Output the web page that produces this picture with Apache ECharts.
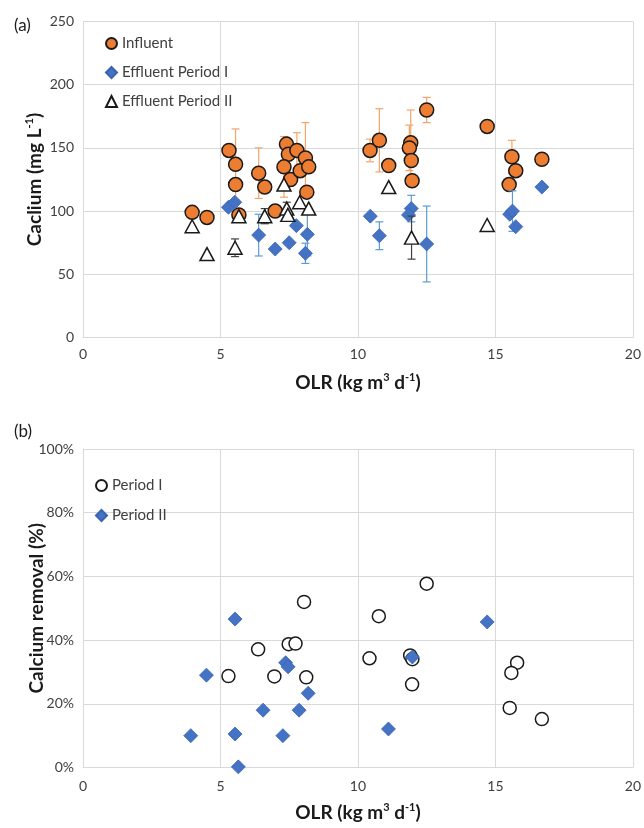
<!DOCTYPE html>
<html>
<head>
  <meta charset="utf-8">
  <title>Calcium vs OLR</title>
  <style type="text/css">
    html, body { margin: 0; padding: 0; background: #fff; }
    #main { width: 644px; height: 828px; }
  </style>
</head>
<body>
<div id="main"></div>
<script type="text/javascript" src="https://cdn.jsdelivr.net/npm/echarts@6/dist/echarts.min.js"></script>
<script type="text/javascript">
  // (a) calcium concentration vs OLR
  var olrInfluent = [3.97, 4.51, 5.31, 5.55, 5.55, 5.67, 6.39, 6.61, 6.99, 7.40, 7.47, 7.31, 7.55, 7.78, 7.90, 8.09,
                     8.21, 8.14, 10.44, 10.78, 11.12, 12.50, 11.92, 11.87, 11.94, 11.97, 14.70, 15.60, 15.74, 15.50, 16.69];
  var caInfluent  = [99, 95, 148, 137, 121, 97, 130, 119, 100, 153, 145, 135, 125, 148, 132, 142,
                     135, 115, 148, 156, 136, 180, 154, 150, 140, 124, 167, 143, 132, 121, 141];
  var sdInfluent  = [0, 0, 0, 28, 0, 0, 20, 0, 0, 0, 0, 24, 0, 14, 0, 28,
                     0, 0, 9, 25, 0, 10, 26, 18, 0, 0, 0, 13, 0, 0, 0];

  var olrEffI = [5.29, 5.52, 6.39, 6.99, 7.50, 7.76, 8.16, 8.09, 10.45, 10.78, 11.94, 11.84, 12.50, 15.52, 15.62, 15.74, 16.69];
  var caEffI  = [103, 107, 81, 70, 75, 88.5, 81.6, 66.6, 96, 80.5, 102, 97, 74, 97.5, 100, 87.7, 119];
  var sdEffI  = [0, 0, 16.5, 0, 0, 0, 17, 8, 0, 11, 10.5, 0, 30, 0, 16, 0, 0];

  var olrEffII = [3.97, 4.51, 5.67, 5.53, 6.61, 7.31, 7.41, 7.45, 7.88, 8.21, 11.12, 11.95, 14.70];
  var caEffII  = [88, 66, 96, 71, 96, 121, 102, 97, 107, 102, 119, 79, 89];
  var sdEffII  = [0, 0, 0, 7, 6, 0, 5, 0, 0, 0, 0, 17, 0];

  // (b) calcium removal vs OLR
  var olrPeriodI = [8.04, 10.76, 6.37, 7.48, 7.73, 10.42, 5.29, 6.96, 8.12, 12.50, 11.90, 11.98, 11.97, 15.79, 15.58, 15.52, 16.69];
  var removalPeriodI = [52.0, 47.5, 37.1, 38.7, 38.9, 34.3, 28.7, 28.6, 28.3, 57.7, 35.2, 34.0, 26.1, 32.9, 29.7, 18.7, 15.2];
  var olrPeriodII = [5.53, 4.49, 7.37, 7.46, 8.19, 6.55, 7.86, 3.92, 5.53, 7.27, 5.65, 11.11, 14.70, 11.98];
  var removalPeriodII = [46.6, 29.0, 32.9, 31.6, 23.3, 18.0, 18.0, 10.0, 10.5, 10.0, 0.2, 12.1, 45.7, 34.7];

  var FONT = 'Lato';
  var ORANGE = '#ED7D31';
  var BLUE = '#4472C4';

  function zip(xs, ys, es) {
    return xs.map(function (x, i) { return es ? [x, ys[i], es[i]] : [x, ys[i]]; });
  }
  function withErr(xs, ys, es) {
    return zip(xs, ys, es).filter(function (d) { return d[2] > 0; });
  }

  function errorBars(color) {
    return function (params, api) {
      var x = api.value(0), y = api.value(1), e = api.value(2);
      var hi = api.coord([x, y + e]);
      var lo = api.coord([x, y - e]);
      var cw = 4;
      var st = { stroke: color, lineWidth: 1.2 };
      return {
        type: 'group',
        children: [
          { type: 'line', shape: { x1: hi[0], y1: hi[1], x2: lo[0], y2: lo[1] }, style: st },
          { type: 'line', shape: { x1: hi[0] - cw, y1: hi[1], x2: hi[0] + cw, y2: hi[1] }, style: st },
          { type: 'line', shape: { x1: lo[0] - cw, y1: lo[1], x2: lo[0] + cw, y2: lo[1] }, style: st }
        ]
      };
    };
  }

  var gridLine = { show: true, lineStyle: { color: '#d9d9d9', width: 1 } };
  var tickLabel = { fontFamily: FONT, fontSize: 14, color: '#404040' };
  var nameStyle = {
    fontFamily: FONT, fontSize: 19, fontWeight: 'bold', color: '#1a1a1a',
    rich: {
      sup: { fontFamily: FONT, fontSize: 11, fontWeight: 'bold', color: '#1a1a1a', verticalAlign: 'top', lineHeight: 22 }
    }
  };

  function xAxis(gridIndex, margin, gap) {
    return {
      type: 'value', gridIndex: gridIndex, min: 0, max: 20, interval: 5,
      axisLine: { show: true, lineStyle: { color: '#d9d9d9' } },
      axisTick: { show: false },
      splitLine: gridLine,
      axisLabel: Object.assign({ margin: margin }, tickLabel),
      name: 'OLR (kg m{sup|3} d{sup|-1})',
      nameLocation: 'middle', nameGap: gap, nameMoveOverlap: false, nameTextStyle: nameStyle
    };
  }

  var myChart = echarts.init(document.getElementById('main'));

  var option = {
    backgroundColor: '#fff',
    animation: false,
    title: [
      { text: '(a)', left: 9, top: 12, textStyle: { fontFamily: FONT, fontSize: 17, fontWeight: 'normal', color: '#1a1a1a' } },
      { text: '(b)', left: 9, top: 418, textStyle: { fontFamily: FONT, fontSize: 17, fontWeight: 'normal', color: '#1a1a1a' } }
    ],
    legend: [
      {
        data: ['Influent', 'Effluent Period I', 'Effluent Period II'],
        orient: 'vertical', left: 100, top: 31,
        itemWidth: 11, itemHeight: 11, itemGap: 14,
        textStyle: { fontFamily: FONT, fontSize: 15, color: '#404040' }
      },
      {
        data: ['Period I', 'Period II'],
        orient: 'vertical', left: 90, top: 473,
        itemWidth: 11, itemHeight: 11, itemGap: 15,
        textStyle: { fontFamily: FONT, fontSize: 15, color: '#404040' }
      }
    ],
    grid: [
      { left: 83, right: 11, top: 21.5, height: 316 },
      { left: 83, right: 11, top: 449, height: 318.5 }
    ],
    xAxis: [xAxis(0, 10, 34), xAxis(1, 12, 34)],
    yAxis: [
      {
        type: 'value', gridIndex: 0, min: 0, max: 250, interval: 50,
        axisLine: { show: true, lineStyle: { color: '#d9d9d9' } },
        axisTick: { show: false },
        splitLine: gridLine,
        axisLabel: Object.assign({ margin: 9 }, tickLabel),
        name: 'Caclium (mg L{sup|-1})',
        nameLocation: 'middle', nameGap: 37, nameMoveOverlap: false, nameTextStyle: nameStyle
      },
      {
        type: 'value', gridIndex: 1, min: 0, max: 100, interval: 20,
        axisLine: { show: true, lineStyle: { color: '#d9d9d9' } },
        axisTick: { show: false },
        splitLine: gridLine,
        axisLabel: Object.assign({ margin: 9, formatter: '{value}%' }, tickLabel),
        name: 'Calcium removal (%)',
        nameLocation: 'middle', nameGap: 37, nameMoveOverlap: false, nameTextStyle: nameStyle
      }
    ],
    series: [
      {
        type: 'custom', name: 'sdInfluent', xAxisIndex: 0, yAxisIndex: 0, silent: true, z: 1,
        renderItem: errorBars('#F4A46A'), encode: { x: 0, y: 1 },
        data: withErr(olrInfluent, caInfluent, sdInfluent)
      },
      {
        name: 'Influent', type: 'scatter', xAxisIndex: 0, yAxisIndex: 0, z: 2,
        symbol: 'circle', symbolSize: 14,
        itemStyle: { color: ORANGE, borderColor: '#1a1a1a', borderWidth: 1.5, opacity: 1 },
        data: zip(olrInfluent, caInfluent)
      },
      {
        type: 'custom', name: 'sdEffI', xAxisIndex: 0, yAxisIndex: 0, silent: true, z: 3,
        renderItem: errorBars('#5B9BD5'), encode: { x: 0, y: 1 },
        data: withErr(olrEffI, caEffI, sdEffI)
      },
      {
        name: 'Effluent Period I', type: 'scatter', xAxisIndex: 0, yAxisIndex: 0, z: 4,
        symbol: 'diamond', symbolSize: 14,
        itemStyle: { color: BLUE, borderColor: '#3A64B0', borderWidth: 0.8, opacity: 1 },
        data: zip(olrEffI, caEffI)
      },
      {
        type: 'custom', name: 'sdEffII', xAxisIndex: 0, yAxisIndex: 0, silent: true, z: 5,
        renderItem: errorBars('#404040'), encode: { x: 0, y: 1 },
        data: withErr(olrEffII, caEffII, sdEffII)
      },
      {
        name: 'Effluent Period II', type: 'scatter', xAxisIndex: 0, yAxisIndex: 0, z: 6,
        symbol: 'triangle', symbolSize: [14, 13],
        itemStyle: { color: '#fff', borderColor: '#1a1a1a', borderWidth: 1.5, opacity: 1 },
        data: zip(olrEffII, caEffII)
      },
      {
        name: 'Period I', type: 'scatter', xAxisIndex: 1, yAxisIndex: 1, z: 2,
        symbol: 'circle', symbolSize: 13,
        itemStyle: { color: '#fff', borderColor: '#1a1a1a', borderWidth: 1.5, opacity: 1 },
        data: zip(olrPeriodI, removalPeriodI)
      },
      {
        name: 'Period II', type: 'scatter', xAxisIndex: 1, yAxisIndex: 1, z: 3, clip: false,
        symbol: 'diamond', symbolSize: 14,
        itemStyle: { color: BLUE, borderColor: '#3A64B0', borderWidth: 0.8, opacity: 1 },
        data: zip(olrPeriodII, removalPeriodII)
      }
    ]
  };

  myChart.setOption(option);
</script>
</body>
</html>
